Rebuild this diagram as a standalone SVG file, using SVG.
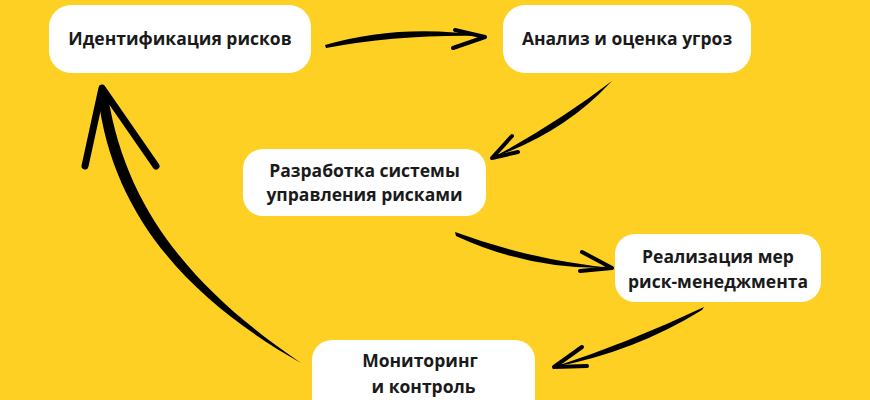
<svg xmlns="http://www.w3.org/2000/svg" width="870" height="400" viewBox="0 0 870 400">
<style>
.box{fill:#ffffff}
.lbl{font-family:"Open Sans","Noto Sans","Liberation Sans",sans-serif;font-weight:700;font-size:17.5px;fill:#1a1a1a;text-anchor:middle}
.shaft{fill:#000000}
.barb{fill:none;stroke:#000000;stroke-linecap:round;stroke-linejoin:round}
</style>
<rect width="870" height="400" fill="#FDD023"/>
<g id="connectors">
  <g id="c1">
    <path class="shaft" d="M325,45 Q400,23 486,36 Q400,34 326,48 Z"/>
    <path class="barb" stroke-width="4" d="M455,30 L485,37 L453,48"/>
  </g>
  <g id="c2">
    <path class="shaft" d="M612,81 Q557,123 492,158 Q563,133 609,84 Z"/>
    <path class="barb" stroke-width="4" d="M512,136 L492,158 L518,152"/>
  </g>
  <g id="c3">
    <path class="shaft" d="M455,232 Q531,260 612,268 Q529,270 456,236 Z"/>
    <path class="barb" stroke-width="4" d="M582,252 L612,268 L580,271"/>
  </g>
  <g id="c4">
    <path class="shaft" d="M704,307 Q630,342 554,367 Q634,352 702,310 Z"/>
    <path class="barb" stroke-width="4" d="M582,347 L554,367 L587,366"/>
  </g>
  <g id="c5">
    <path class="shaft" d="M301,363 C197,304 113,222 98,96 L108,96 C127,218 204,297 301,363 Z"/>
    <path class="barb" stroke-width="7" d="M85,166 L102,88 L156,166"/>
  </g>
</g>
<g id="n1">
  <rect class="box" x="49" y="5" width="262" height="68" rx="22"/>
  <text class="lbl" x="180" y="45">Идентификация рисков</text>
</g>
<g id="n2">
  <rect class="box" x="503" y="5" width="248" height="68" rx="22"/>
  <text class="lbl" x="627" y="45">Анализ и оценка угроз</text>
</g>
<g id="n3">
  <rect class="box" x="243" y="149" width="243" height="67" rx="20"/>
  <text class="lbl" x="364.5" y="177">Разработка системы</text>
  <text class="lbl" x="364.5" y="201">управления рисками</text>
</g>
<g id="n4">
  <rect class="box" x="615" y="234" width="206" height="68" rx="20"/>
  <text class="lbl" x="718" y="263">Реализация мер</text>
  <text class="lbl" x="718" y="288">риск-менеджмента</text>
</g>
<g id="n5">
  <rect class="box" x="312" y="340" width="223" height="80" rx="20"/>
  <text class="lbl" x="420" y="367">Мониторинг</text>
  <text class="lbl" x="423.5" y="393">и контроль</text>
</g>
</svg>
